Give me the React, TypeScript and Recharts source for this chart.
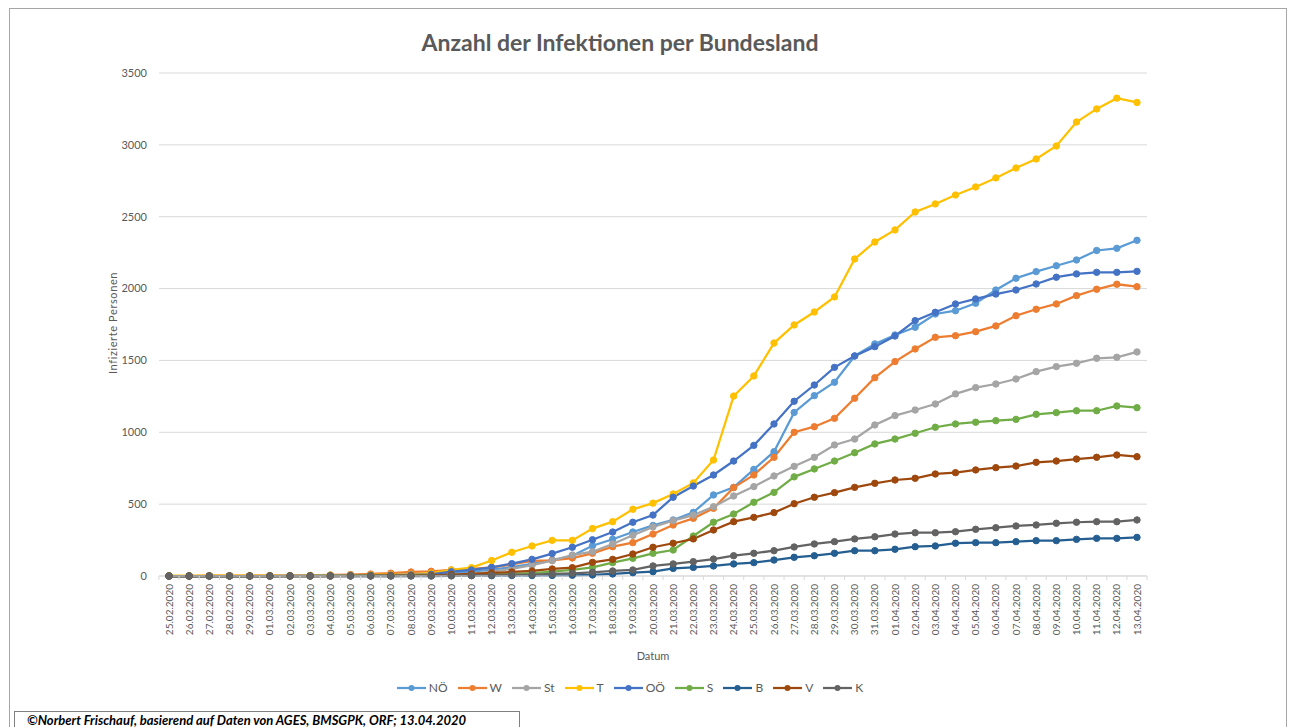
import React from 'react';
import { LineChart, Line, XAxis, YAxis, CartesianGrid, Legend } from 'recharts';

const dates = [
  '25.02.2020', '26.02.2020', '27.02.2020', '28.02.2020', '29.02.2020',
  '01.03.2020', '02.03.2020', '03.03.2020', '04.03.2020', '05.03.2020', '06.03.2020', '07.03.2020',
  '08.03.2020', '09.03.2020', '10.03.2020', '11.03.2020', '12.03.2020', '13.03.2020', '14.03.2020',
  '15.03.2020', '16.03.2020', '17.03.2020', '18.03.2020', '19.03.2020', '20.03.2020', '21.03.2020',
  '22.03.2020', '23.03.2020', '24.03.2020', '25.03.2020', '26.03.2020', '27.03.2020', '28.03.2020',
  '29.03.2020', '30.03.2020', '31.03.2020', '01.04.2020', '02.04.2020', '03.04.2020', '04.04.2020',
  '05.04.2020', '06.04.2020', '07.04.2020', '08.04.2020', '09.04.2020', '10.04.2020', '11.04.2020',
  '12.04.2020', '13.04.2020',
];

const noe = [0, 0, 0, 0, 0, 1, 1, 2, 3, 4, 5, 7, 10, 14, 22, 30, 45, 62, 85, 111, 141, 211, 256, 306, 352, 390, 443, 564, 617, 742, 865, 1138, 1255, 1348, 1531, 1615, 1677, 1731, 1823, 1846, 1898, 1990, 2072, 2118, 2159, 2199, 2265, 2280, 2336];
const wien = [0, 0, 2, 2, 2, 3, 3, 4, 7, 10, 14, 20, 28, 33, 42, 50, 60, 80, 105, 108, 125, 158, 204, 232, 292, 355, 401, 471, 615, 703, 826, 1000, 1039, 1097, 1237, 1380, 1492, 1580, 1661, 1672, 1700, 1740, 1811, 1856, 1893, 1951, 1995, 2030, 2013];
const stmk = [0, 0, 0, 0, 0, 0, 1, 1, 1, 2, 3, 4, 5, 6, 10, 15, 30, 50, 75, 107, 146, 169, 223, 283, 342, 385, 424, 482, 557, 622, 696, 763, 826, 912, 953, 1051, 1116, 1155, 1197, 1267, 1311, 1336, 1371, 1422, 1457, 1480, 1515, 1522, 1559];
const tirol = [2, 2, 2, 2, 2, 2, 2, 3, 4, 5, 7, 9, 12, 20, 42, 58, 108, 165, 209, 248, 248, 330, 378, 464, 507, 571, 648, 807, 1252, 1392, 1621, 1747, 1837, 1942, 2206, 2324, 2408, 2533, 2589, 2651, 2707, 2770, 2839, 2902, 2992, 3159, 3250, 3325, 3295];
const ooe = [0, 0, 0, 0, 0, 0, 1, 1, 2, 3, 4, 6, 8, 12, 30, 42, 60, 86, 116, 156, 200, 252, 306, 374, 424, 548, 626, 703, 800, 909, 1058, 1216, 1329, 1452, 1531, 1596, 1670, 1777, 1835, 1893, 1928, 1962, 1990, 2032, 2079, 2102, 2113, 2113, 2120];
const salzburg = [0, 0, 0, 0, 0, 0, 0, 0, 1, 1, 2, 3, 4, 5, 6, 8, 12, 15, 20, 30, 42, 60, 93, 123, 158, 181, 278, 374, 431, 513, 582, 690, 745, 800, 858, 919, 953, 993, 1035, 1058, 1070, 1081, 1090, 1125, 1137, 1150, 1150, 1183, 1171];
const burgenland = [0, 0, 0, 0, 0, 0, 0, 0, 0, 0, 0, 0, 0, 0, 1, 2, 2, 3, 3, 4, 5, 7, 14, 23, 30, 53, 60, 70, 84, 93, 111, 130, 141, 158, 176, 176, 186, 204, 209, 228, 232, 232, 239, 246, 246, 255, 262, 262, 269];
const vorarlberg = [0, 0, 0, 0, 0, 0, 0, 0, 0, 1, 1, 2, 3, 5, 10, 15, 22, 28, 35, 49, 58, 95, 116, 153, 200, 228, 258, 320, 378, 408, 441, 503, 548, 580, 617, 645, 668, 680, 710, 719, 738, 754, 765, 791, 800, 814, 826, 842, 830];
const kaernten = [0, 0, 0, 0, 0, 0, 0, 0, 0, 0, 0, 0, 1, 1, 2, 4, 6, 8, 10, 14, 19, 26, 35, 42, 70, 84, 100, 118, 141, 158, 176, 202, 223, 239, 258, 273, 292, 301, 301, 308, 325, 336, 348, 355, 367, 374, 378, 378, 390];

const yTicks = [0, 500, 1000, 1500, 2000, 2500, 3000, 3500];

const seriesList = [
  { key: 'NÖ', values: noe, color: '#5B9BD5' },
  { key: 'W', values: wien, color: '#ED7D31' },
  { key: 'St', values: stmk, color: '#A5A5A5' },
  { key: 'T', values: tirol, color: '#FFC000' },
  { key: 'OÖ', values: ooe, color: '#4472C4' },
  { key: 'S', values: salzburg, color: '#70AD47' },
  { key: 'B', values: burgenland, color: '#255E91' },
  { key: 'V', values: vorarlberg, color: '#9E480E' },
  { key: 'K', values: kaernten, color: '#636363' },
];

const chartData = dates.map((date, i) => {
  const row: any = { date };
  seriesList.forEach(s => { row[s.key] = s.values[i]; });
  return row;
});

const font = 'Lato, "Open Sans", sans-serif';
const textColor = '#595959';
const gridColor = '#d9d9d9';

// chart box
const W = 1290;
const H = 727;
const margin = { top: 73, right: 143, bottom: 71, left: 99 };
const yAxisWidth = 60;
const catPad = 10;
const plotWidth = W - margin.left - margin.right - yAxisWidth;
const step = (plotWidth - 2 * catPad) / (dates.length - 1);

// rotated date labels, read bottom to top, with small tick marks on the category borders
const DateTick = ({ x, y, payload, index }: any) => {
  const axisY = y - 8;
  return (
    <g>
      <line x1={x - step / 2} x2={x - step / 2} y1={axisY} y2={axisY + 4} stroke={gridColor} />
      {index === dates.length - 1 && (
        <line x1={x + step / 2} x2={x + step / 2} y1={axisY} y2={axisY + 4} stroke={gridColor} />
      )}
      <text
        x={x}
        y={y}
        transform={`rotate(-90 ${x} ${y})`}
        textAnchor="end"
        dy="0.35em"
        fontSize={10}
        fill={textColor}
        fontFamily={font}
      >
        {payload.value}
      </text>
    </g>
  );
};

const renderLegend = () => (
  <div style={{ display: 'flex', justifyContent: 'center', alignItems: 'center', gap: 10, fontFamily: font, fontSize: 12, color: textColor }}>
    {seriesList.map(s => (
      <div key={s.key} style={{ display: 'flex', alignItems: 'center', gap: 3 }}>
        <svg width={29} height={10}>
          <line x1={0} y1={5} x2={29} y2={5} stroke={s.color} strokeWidth={2.25} />
          <circle cx={14.5} cy={5} r={3} fill={s.color} />
        </svg>
        <span>{s.key}</span>
      </div>
    ))}
  </div>
);

export default function App() {
  return (
    <div style={{ position: 'absolute', left: 0, top: 0, width: W, height: H, overflow: 'hidden', background: '#fff' }}>
      <div style={{ position: 'absolute', left: 9, top: 8, width: 1278, height: 740, border: '1px solid #a6a6a6', boxSizing: 'border-box' }} />
      <div style={{ position: 'absolute', left: 0, top: 28, width: 1240, textAlign: 'center', fontFamily: font, fontWeight: 700, fontSize: 23, color: textColor }}>
        Anzahl der Infektionen per Bundesland
      </div>
      <div style={{ position: 'absolute', left: 112, top: 323, transform: 'translate(-50%, -50%) rotate(-90deg)', whiteSpace: 'nowrap', fontFamily: font, fontSize: 11, letterSpacing: 0.6, color: textColor }}>
        Infizierte Personen
      </div>
      <div style={{ position: 'absolute', left: 653, top: 655, transform: 'translate(-50%, -50%)', fontFamily: font, fontSize: 11, color: textColor }}>
        Datum
      </div>
      <div style={{ position: 'absolute', left: 0, top: 0 }}>
        <LineChart width={W} height={H} data={chartData} margin={margin}>
          <CartesianGrid vertical={false} stroke={gridColor} />
          <XAxis
            dataKey="date"
            interval={0}
            height={80}
            padding={{ left: catPad, right: catPad }}
            tick={<DateTick />}
            tickLine={false}
            axisLine={{ stroke: gridColor }}
          />
          <YAxis
            width={yAxisWidth}
            domain={[0, 3500]}
            ticks={yTicks}
            axisLine={false}
            tickLine={false}
            tickMargin={6}
            tick={{ fontSize: 11, fill: textColor, fontFamily: font }}
          />
          {seriesList.map(s => (
            <Line
              key={s.key}
              type="linear"
              dataKey={s.key}
              stroke={s.color}
              strokeWidth={2.25}
              dot={{ r: 3.2, fill: s.color, stroke: s.color, strokeWidth: 1 }}
              isAnimationActive={false}
            />
          ))}
          <Legend verticalAlign="middle" content={renderLegend} wrapperStyle={{ top: 680, left: 0, width: 1260 }} />
        </LineChart>
      </div>
      <div style={{ position: 'absolute', left: 14, top: 711, width: 506, height: 30, border: '1px solid #7f7f7f', boxSizing: 'border-box', padding: '1px 0 0 12px', fontFamily: font, fontSize: 13, lineHeight: '14px', fontWeight: 700, fontStyle: 'italic', color: '#000', whiteSpace: 'nowrap' }}>
        ©Norbert Frischauf, basierend auf Daten von AGES, BMSGPK, ORF; 13.04.2020
      </div>
    </div>
  );
}
